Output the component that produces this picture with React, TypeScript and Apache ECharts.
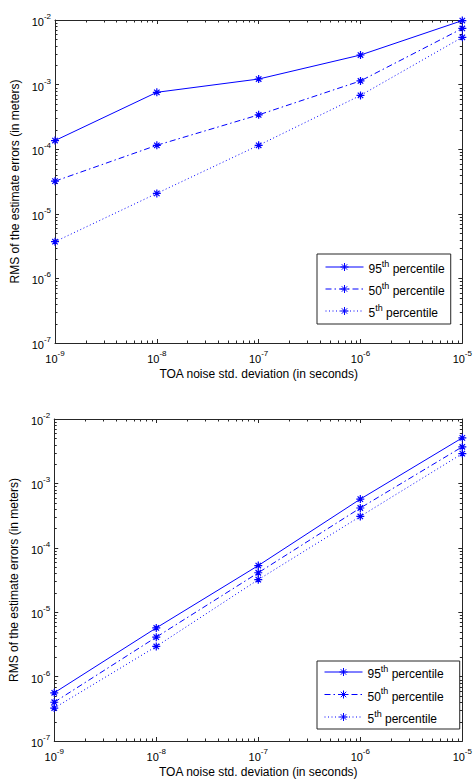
import { useEffect, useRef } from "react";
import * as echarts from "echarts";

// TOA noise standard deviation (seconds)
const noiseStd = [1e-9, 1e-8, 1e-7, 1e-6, 1e-5];
const percentileNames = ["95th percentile", "50th percentile", "5th percentile"];

// Upper panel: RMS of the estimate errors (meters)
const upperP95 = [1.36e-4, 7.6e-4, 1.22e-3, 2.87e-3, 9.8e-3];
const upperP50 = [3.2e-5, 1.15e-4, 3.4e-4, 1.14e-3, 7.4e-3];
const upperP5 = [3.7e-6, 2.07e-5, 1.15e-4, 6.8e-4, 5.4e-3];

// Lower panel: RMS of the estimate errors (meters)
const lowerP95 = [5.6e-7, 5.7e-6, 5.3e-5, 5.7e-4, 5.1e-3];
const lowerP50 = [4.0e-7, 4.1e-6, 4.1e-5, 4.15e-4, 3.7e-3];
const lowerP5 = [3.25e-7, 2.94e-6, 3.2e-5, 3.07e-4, 2.9e-3];

// Axis ranges and log-scale minor tick multipliers
const X_MIN = 1e-9;
const X_MAX = 1e-5;
const Y_MIN = 1e-7;
const Y_MAX = 1e-2;
const xDecades = [1e-9, 1e-8, 1e-7, 1e-6];
const yDecades = [1e-7, 1e-6, 1e-5, 1e-4, 1e-3];
const minorSteps = [2, 3, 4, 5, 6, 7, 8, 9];

const FONT = "'Liberation Sans', Arial, Helvetica, sans-serif";
const AXIS_COLOR = "#262626";
const BLUE = "#0000ff";
const ASTERISK = "path://M5,0L5,10M0,5L10,5M1.6,1.6L8.4,8.4M1.6,8.4L8.4,1.6";
const LINE_TYPES: any[] = ["solid", [6, 3, 1.5, 3], [1, 2.5]];

const powerRich = {
  b: { fontSize: 11, lineHeight: 15, verticalAlign: "bottom", fontFamily: FONT, color: "#000" },
  e: { fontSize: 8, lineHeight: 15, verticalAlign: "top", fontFamily: FONT, color: "#000" },
};
const powerLabel = (v: number) => `{b|10}{e|${Math.round(Math.log10(v))}}`;

function minorTickData() {
  const out: number[][] = [];
  xDecades.forEach((d) => minorSteps.forEach((m) => out.push([d * m, Y_MIN, 0])));
  yDecades.forEach((d) => minorSteps.forEach((m) => out.push([X_MIN, d * m, 1])));
  return out;
}

function minorTickSeries(gridIndex: number) {
  return {
    type: "custom",
    xAxisIndex: gridIndex * 2,
    yAxisIndex: gridIndex * 2,
    silent: true,
    clip: false,
    data: minorTickData(),
    encode: { x: 0, y: 1 },
    renderItem: (params: any, api: any) => {
      const cs = params.coordSys;
      const kind = api.value(2);
      const p = api.coord([api.value(0), api.value(1)]);
      const len = 2.5;
      const style = { stroke: AXIS_COLOR, lineWidth: 1 };
      if (kind === 0) {
        const x = Math.round(p[0]) + 0.5;
        const yb = cs.y + cs.height;
        const yt = cs.y;
        return {
          type: "group",
          children: [
            { type: "line", shape: { x1: x, y1: yb, x2: x, y2: yb - len }, style },
            { type: "line", shape: { x1: x, y1: yt, x2: x, y2: yt + len }, style },
          ],
        };
      }
      const y = Math.round(p[1]) + 0.5;
      const xl = cs.x;
      const xr = cs.x + cs.width;
      return {
        type: "group",
        children: [
          { type: "line", shape: { x1: xl, y1: y, x2: xl + len, y2: y }, style },
          { type: "line", shape: { x1: xr, y1: y, x2: xr - len, y2: y }, style },
        ],
      };
    },
  };
}

function axesFor(gridIndex: number) {
  const tick = { show: true, inside: true, length: 4, lineStyle: { color: AXIS_COLOR } };
  const line = { show: true, lineStyle: { color: AXIS_COLOR, width: 1 } };
  const titleStyle = { fontFamily: FONT, fontSize: 12, color: "#000" };
  const xMain = {
    type: "log",
    gridIndex,
    position: "bottom",
    min: X_MIN,
    max: X_MAX,
    logBase: 10,
    axisLine: line,
    axisTick: tick,
    splitLine: { show: false },
    axisLabel: { formatter: powerLabel, rich: powerRich, margin: 6 },
    name: "TOA noise std. deviation (in seconds)",
    nameLocation: "middle",
    nameGap: 25,
    nameTextStyle: titleStyle,
  };
  const xTop = {
    type: "log",
    gridIndex,
    position: "top",
    min: X_MIN,
    max: X_MAX,
    logBase: 10,
    axisLine: line,
    axisTick: tick,
    splitLine: { show: false },
    axisLabel: { show: false },
  };
  const yMain = {
    type: "log",
    gridIndex,
    position: "left",
    min: Y_MIN,
    max: Y_MAX,
    logBase: 10,
    axisLine: line,
    axisTick: tick,
    splitLine: { show: false },
    axisLabel: { formatter: powerLabel, rich: powerRich, margin: 4 },
    name: "RMS of the estimate errors (in meters)",
    nameLocation: "middle",
    nameRotate: 90,
    nameGap: 24,
    nameTextStyle: titleStyle,
  };
  const yRight = {
    type: "log",
    gridIndex,
    position: "right",
    min: Y_MIN,
    max: Y_MAX,
    logBase: 10,
    axisLine: line,
    axisTick: tick,
    splitLine: { show: false },
    axisLabel: { show: false },
  };
  return { x: [xMain, xTop], y: [yMain, yRight] };
}

function percentileSeries(gridIndex: number, values: number[][]) {
  return values.map((vals, i) => ({
    type: "line",
    name: percentileNames[i],
    xAxisIndex: gridIndex * 2,
    yAxisIndex: gridIndex * 2,
    data: noiseStd.map((x, k) => [x, vals[k]]),
    symbol: ASTERISK,
    symbolSize: 8,
    showSymbol: true,
    itemStyle: { color: BLUE, borderColor: BLUE, borderWidth: 1.2 },
    lineStyle: { color: BLUE, width: 1, type: LINE_TYPES[i] },
    z: 3,
  }));
}

const legendRich = {
  n: { fontSize: 12, lineHeight: 16, verticalAlign: "bottom", fontFamily: FONT, color: "#000" },
  s: { fontSize: 9, lineHeight: 16, verticalAlign: "top", fontFamily: FONT, color: "#000" },
};
const legendFormatter = (name: string) => {
  const m = name.match(/^(\d+)(th) (.*)$/);
  if (!m) return name;
  return `{n|${m[1]}}{s|${m[2]}}{n| ${m[3]}}`;
};

function legendAt(left: number, top: number, padding: number[], itemGap: number) {
  return {
    data: percentileNames,
    orient: "vertical",
    left,
    top,
    padding,
    itemGap,
    itemWidth: 38,
    itemHeight: 10,
    borderColor: AXIS_COLOR,
    borderWidth: 1,
    backgroundColor: "#fff",
    selectedMode: false,
    formatter: legendFormatter,
    lineStyle: { width: 1 },
    itemStyle: { borderWidth: 1 },
    textStyle: { rich: legendRich, fontFamily: FONT, fontSize: 12 },
    z: 10,
  };
}

export default function App() {
  const ref = useRef<HTMLDivElement>(null);

  useEffect(() => {
    document.body.style.margin = "0";
    if (!ref.current) return;
    const chart = echarts.init(ref.current, undefined, { renderer: "svg" });
    const a0 = axesFor(0);
    const a1 = axesFor(1);
    chart.setOption({
      animation: false,
      backgroundColor: "#fff",
      textStyle: { fontFamily: FONT },
      grid: [
        { left: 55, top: 20, width: 412, height: 323 },
        { left: 52, top: 419, width: 412, height: 322 },
      ],
      xAxis: [...a0.x, ...a1.x],
      yAxis: [...a0.y, ...a1.y],
      legend: [
        legendAt(317, 254, [5, 6, 5, 8], 6),
        legendAt(317, 661, [3, 16, 4, 7], 6.5),
      ],
      series: [
        ...percentileSeries(0, [upperP95, upperP50, upperP5]),
        ...percentileSeries(1, [lowerP95, lowerP50, lowerP5]),
        minorTickSeries(0),
        minorTickSeries(1),
      ],
    });
    return () => chart.dispose();
  }, []);

  return (
    <div
      ref={ref}
      style={{ position: "absolute", left: 0, top: 0, width: 475, height: 781, background: "#fff" }}
    />
  );
}
